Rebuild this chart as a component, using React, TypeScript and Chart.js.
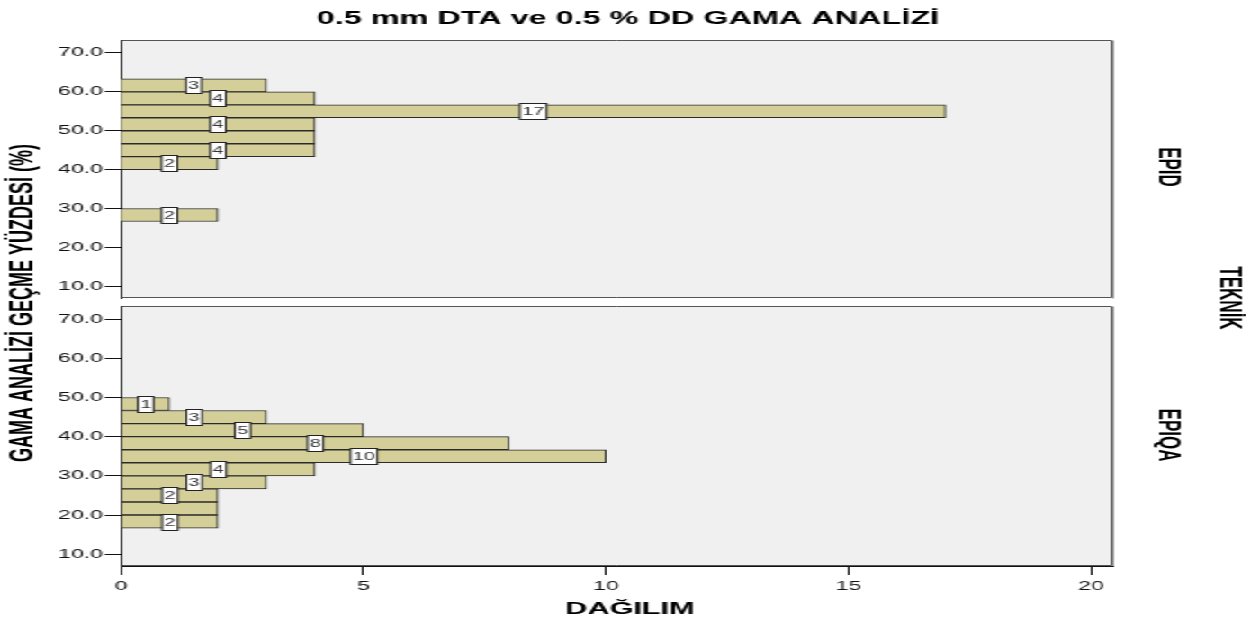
import React, { useEffect, useRef } from "react";
import { Chart, registerables } from "chart.js";

Chart.register(...registerables);

// ---------- data ----------
const TITLE = "0.5 mm DTA ve 0.5 % DD GAMA ANALİZİ";
const Y_TITLE = "GAMA ANALİZİ GEÇME YÜZDESİ (%)";
const X_TITLE = "DAĞILIM";
const FACET_TITLE = "TEKNİK";
const PANEL_NAMES = ["EPID", "EPIQA"];

// bin centres (bin width 3.33 %) and counts
const EPID_BIN_CENTERS = [61.667, 58.333, 55, 51.667, 48.333, 45, 41.667, 28.333];
const EPID_COUNTS = [3, 4, 17, 4, 4, 4, 2, 2];
const EPIQA_BIN_CENTERS = [48.333, 45, 41.667, 38.333, 35, 31.667, 28.333, 25, 21.667, 18.333];
const EPIQA_COUNTS = [1, 3, 5, 8, 10, 4, 3, 2, 2, 2];

const Y_TICKS = [10, 20, 30, 40, 50, 60, 70];
const X_TICKS = [0, 5, 10, 15, 20];
const Y_MIN = 7;
const Y_MAX = 73.333;
const X_MAX = 20.45;

// ---------- layout / style ----------
const STRETCH = 1.8;
const FULL_W = 1251;
const W = FULL_W / STRETCH;
const H = 622;
const PLOT_LEFT = 121 / STRETCH;
const PLOT_RIGHT = 1113 / STRETCH;
const FONT = "Arial, 'Liberation Sans', Helvetica, sans-serif";
const BAR_FILL = "#D4CF99";
const BAR_EDGE = "#2b2b2b";
const PANEL_BG = "#F0F0F0";

const panelPlugin = {
  id: "panelFrame",
  beforeDraw(chart: any) {
    const { ctx, chartArea: a } = chart;
    ctx.save();
    ctx.fillStyle = PANEL_BG;
    ctx.fillRect(a.left, a.top, a.right - a.left, a.bottom - a.top);
    const t = Math.round(a.top) + 0.5;
    const b = Math.round(a.bottom) - 0.5;
    const r = Math.round(a.right) - 0.5;
    ctx.lineWidth = 1;
    ctx.strokeStyle = "#555";
    ctx.beginPath();
    ctx.moveTo(a.left, t);
    ctx.lineTo(r, t);
    ctx.lineTo(r, b);
    ctx.lineTo(a.left, b);
    ctx.stroke();
    ctx.strokeStyle = "#9a9a9a";
    ctx.beginPath();
    ctx.moveTo(r + 1, t);
    ctx.lineTo(r + 1, b + 1);
    ctx.stroke();
    ctx.restore();
  },
};

const labelPlugin = {
  id: "barLabels",
  afterDatasetsDraw(chart: any) {
    const ctx = chart.ctx;
    const meta = chart.getDatasetMeta(0);
    const ds = chart.data.datasets[0];
    const items = meta.data
      .map((el: any, i: number) => ({ el, v: ds.data[i].x }))
      .sort((p: any, q: any) => p.el.y - q.el.y);
    const placed: any[] = [];
    ctx.save();
    ctx.font = `11px ${FONT}`;
    ctx.textAlign = "center";
    ctx.textBaseline = "middle";
    for (const it of items) {
      const text = String(it.v);
      const w = ctx.measureText(text).width + 2.6;
      const h = 16;
      const cx = (it.el.x + it.el.base) / 2;
      const cy = it.el.y;
      const box = { l: cx - w / 2, r: cx + w / 2, t: cy - h / 2, b: cy + h / 2 };
      if (placed.some((p) => box.l < p.r && box.r > p.l && box.t < p.b && box.b > p.t)) continue;
      placed.push(box);
      const top = Math.round(box.t) + 0.5;
      ctx.fillStyle = "#ffffff";
      ctx.fillRect(box.l, top, w, h);
      ctx.strokeStyle = "#222";
      ctx.lineWidth = 1;
      ctx.strokeRect(box.l, top, w, h);
      ctx.fillStyle = "#333";
      ctx.fillText(text, cx, top + h / 2 + 0.5);
    }
    ctx.restore();
  },
};

function textPlugin(items: { text: string; x: number; y: number; rot: number; size: number }[]) {
  return {
    id: "texts",
    afterDraw(chart: any) {
      const ctx = chart.ctx;
      ctx.save();
      ctx.fillStyle = "#000";
      ctx.textAlign = "center";
      ctx.textBaseline = "middle";
      for (const t of items) {
        ctx.save();
        ctx.translate(t.x, t.y);
        ctx.rotate(t.rot);
        ctx.font = `bold ${t.size}px ${FONT}`;
        ctx.fillText(t.text, 0, 0);
        ctx.restore();
      }
      ctx.restore();
    },
  };
}

function yScale() {
  return {
    type: "linear",
    position: "left",
    min: Y_MIN,
    max: Y_MAX,
    offset: false,
    afterFit: (s: any) => {
      s.width = PLOT_LEFT;
    },
    afterBuildTicks: (s: any) => {
      s.ticks = Y_TICKS.map((v) => ({ value: v }));
    },
    ticks: {
      callback: (v: any) => Number(v).toFixed(1),
      font: { family: FONT, size: 12.8 },
      color: "#111",
      padding: 1,
    },
    grid: { drawOnChartArea: false, offset: false, tickLength: 9, color: "#111", tickWidth: 1 },
    border: { display: true, color: "#111", width: 1 },
  };
}

function makeData(centers: number[], counts: number[]) {
  return {
    datasets: [
      {
        data: centers.map((c, i) => ({ x: counts[i], y: c })),
        backgroundColor: BAR_FILL,
        borderColor: BAR_EDGE,
        borderWidth: 1,
        barPercentage: 1,
        categoryPercentage: 1,
      },
    ],
  };
}

export default function App() {
  const topRef = useRef<HTMLCanvasElement | null>(null);
  const botRef = useRef<HTMLCanvasElement | null>(null);

  useEffect(() => {
    const top = new Chart(topRef.current as HTMLCanvasElement, {
      type: "bar",
      data: makeData(EPID_BIN_CENTERS, EPID_COUNTS) as any,
      options: {
        indexAxis: "y",
        animation: false,
        responsive: true,
        maintainAspectRatio: false,
        layout: { padding: { left: 0, right: W - PLOT_RIGHT, top: 40, bottom: H - 298 } },
        plugins: { legend: { display: false }, tooltip: { enabled: false }, title: { display: false } },
        scales: {
          x: { type: "linear", min: 0, max: X_MAX, display: false },
          y: yScale() as any,
        },
      } as any,
      plugins: [
        panelPlugin,
        labelPlugin,
        textPlugin([
          { text: TITLE, x: 628 / STRETCH, y: 19, rot: 0, size: 18 },
          { text: Y_TITLE, x: 23 / STRETCH, y: 303, rot: -Math.PI / 2, size: 18 },
          { text: FACET_TITLE, x: 1228 / STRETCH, y: 298, rot: Math.PI / 2, size: 17 },
          { text: PANEL_NAMES[0], x: 1167 / STRETCH, y: 167, rot: Math.PI / 2, size: 17 },
        ]),
      ],
    });

    const bot = new Chart(botRef.current as HTMLCanvasElement, {
      type: "bar",
      data: makeData(EPIQA_BIN_CENTERS, EPIQA_COUNTS) as any,
      options: {
        indexAxis: "y",
        animation: false,
        responsive: true,
        maintainAspectRatio: false,
        layout: { padding: { left: 0, right: W - PLOT_RIGHT, top: 306, bottom: 0 } },
        plugins: { legend: { display: false }, tooltip: { enabled: false }, title: { display: false } },
        scales: {
          x: {
            type: "linear",
            min: 0,
            max: X_MAX,
            offset: false,
            afterFit: (s: any) => {
              s.height = H - 566;
            },
            afterBuildTicks: (s: any) => {
              s.ticks = X_TICKS.map((v) => ({ value: v }));
            },
            ticks: { font: { family: FONT, size: 12.8 }, color: "#111", padding: 4, maxRotation: 0 },
            grid: { drawOnChartArea: false, offset: false, tickLength: 9, color: "#111", tickWidth: 1 },
            border: { display: true, color: "#111", width: 1 },
          },
          y: yScale() as any,
        },
      } as any,
      plugins: [
        panelPlugin,
        labelPlugin,
        textPlugin([
          { text: PANEL_NAMES[1], x: 1167 / STRETCH, y: 435, rot: Math.PI / 2, size: 17 },
          { text: X_TITLE, x: 630 / STRETCH, y: 609, rot: 0, size: 17 },
        ]),
      ],
    });

    return () => {
      top.destroy();
      bot.destroy();
    };
  }, []);

  const layer: React.CSSProperties = { position: "absolute", left: 0, top: 0, width: W, height: H };

  return (
    <div
      style={{
        position: "absolute",
        left: 0,
        top: 0,
        width: FULL_W,
        height: H,
        background: "#fff",
        overflow: "hidden",
      }}
    >
      <div style={{ position: "absolute", left: 0, top: 0, width: W, height: H, transform: `scaleX(${STRETCH})`, transformOrigin: "0 0" }}>
        <div style={layer}>
          <canvas ref={topRef} />
        </div>
        <div style={layer}>
          <canvas ref={botRef} />
        </div>
      </div>
    </div>
  );
}
